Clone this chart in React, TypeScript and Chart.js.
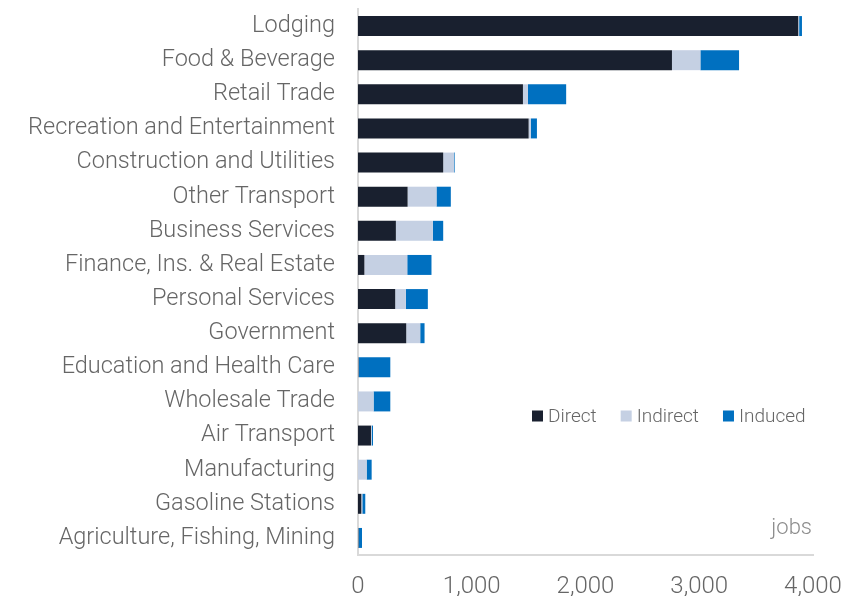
import React, { useEffect, useRef } from "react";
import { Chart, registerables } from "chart.js";

Chart.register(...registerables);

const categories = [
  "Lodging",
  "Food & Beverage",
  "Retail Trade",
  "Recreation and Entertainment",
  "Construction and Utilities",
  "Other Transport",
  "Business Services",
  "Finance, Ins. & Real Estate",
  "Personal Services",
  "Government",
  "Education and Health Care",
  "Wholesale Trade",
  "Air Transport",
  "Manufacturing",
  "Gasoline Stations",
  "Agriculture, Fishing, Mining",
];

const direct = [3870, 2760, 1450, 1500, 749, 436, 333, 56, 327, 424, 3, 0, 114, 0, 29, 3];
const indirect = [8, 250, 44, 20, 96, 254, 325, 377, 94, 123, 5, 137, 6, 76, 9, 3];
const induced = [25, 340, 336, 53, 6, 126, 91, 213, 193, 38, 276, 147, 12, 44, 26, 29];

const seriesNames = ["Direct", "Indirect", "Induced"];
const seriesColors = ["#19202f", "#c5d0e3", "#0070c0"];
const xTickValues = [0, 1000, 2000, 3000, 4000];
const unitLabel = "jobs";

const FONT = "Roboto";
const TEXT_COLOR = "#666666";

const fmt = (v: number) => String(Math.round(v)).replace(/\B(?=(\d{3})+(?!\d))/g, ",");

const overlayPlugin = {
  id: "overlay",
  afterDraw(chart: any) {
    const { ctx, chartArea } = chart;
    ctx.save();
    ctx.font = `300 19px ${FONT}`;
    ctx.textBaseline = "middle";
    ctx.textAlign = "left";
    let x = chartArea.left + 174;
    const y = chartArea.bottom - 139;
    chart.data.datasets.forEach((ds: any) => {
      ctx.fillStyle = ds.backgroundColor;
      ctx.fillRect(x, y - 5.5, 11, 11);
      x += 16;
      ctx.fillStyle = TEXT_COLOR;
      ctx.fillText(ds.label, x, y + 1);
      x += ctx.measureText(ds.label).width + 24;
    });
    ctx.font = `300 22px ${FONT}`;
    ctx.textAlign = "right";
    ctx.fillStyle = "#8c8c8c";
    ctx.fillText(unitLabel, chartArea.right - 1, chartArea.bottom - 27);
    ctx.restore();
  },
};

export default function App() {
  const ref = useRef<HTMLCanvasElement>(null);
  useEffect(() => {
    if (!ref.current) return;
    const values = [direct, indirect, induced];
    const chart = new Chart(ref.current, {
      type: "bar",
      data: {
        labels: categories,
        datasets: seriesNames.map((name, i) => ({
          label: name,
          data: values[i],
          backgroundColor: seriesColors[i],
          borderWidth: 0,
          barPercentage: 0.585,
          categoryPercentage: 1,
        })),
      },
      options: {
        indexAxis: "y",
        animation: false,
        responsive: true,
        maintainAspectRatio: false,
        layout: { padding: { top: 9, right: 33, left: 0, bottom: 0 } },
        plugins: {
          legend: { display: false },
          tooltip: { enabled: false },
        },
        scales: {
          x: {
            stacked: true,
            min: 0,
            max: 4000,
            afterFit: (s: any) => {
              s.height = 41;
              s.paddingLeft = 0;
              s.paddingRight = 0;
            },
            afterBuildTicks: (s: any) => {
              s.ticks = xTickValues.map((v) => ({ value: v }));
            },
            grid: { display: false, drawTicks: false },
            border: { display: true, color: "#d9d9d9", width: 2 },
            ticks: {
              padding: 18,
              color: TEXT_COLOR,
              font: { family: FONT, size: 24, weight: "300" },
              callback: (v: any) => fmt(Number(v)),
            },
          },
          y: {
            stacked: true,
            afterFit: (s: any) => {
              s.width = 358;
              s.paddingTop = 0;
              s.paddingBottom = 0;
            },
            grid: { display: false, drawTicks: false },
            border: { display: true, color: "#d9d9d9", width: 2 },
            ticks: {
              padding: 23,
              color: TEXT_COLOR,
              font: { family: FONT, size: 23.5, weight: "300" },
              autoSkip: false,
            },
          },
        },
      },
      plugins: [overlayPlugin],
    });
    return () => chart.destroy();
  }, []);
  return (
    <div style={{ position: "fixed", left: 0, top: 0, width: 846, height: 596, background: "#fff" }}>
      <canvas ref={ref} />
    </div>
  );
}
